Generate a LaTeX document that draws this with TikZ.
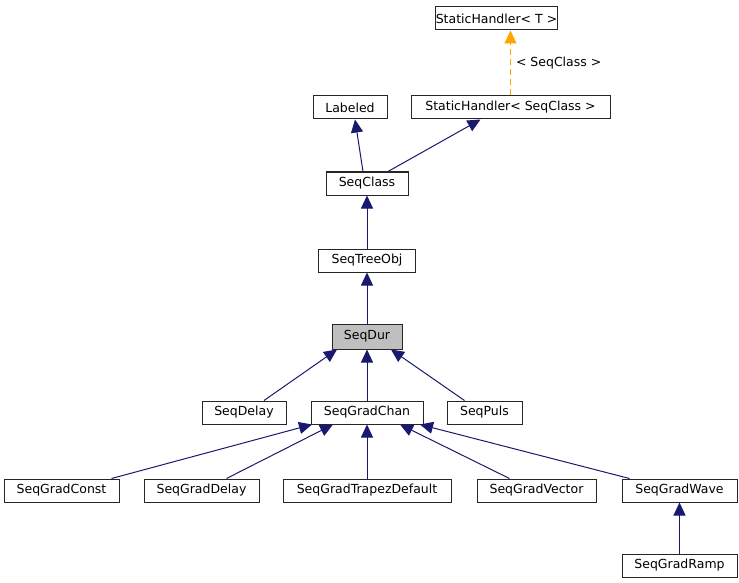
\documentclass[tikz,border=0pt]{standalone}
\usepackage{fontspec}
\setmainfont{DejaVu Sans}
\usetikzlibrary{arrows.meta, positioning}
\definecolor{navy}{HTML}{191970}
\definecolor{tmplorange}{HTML}{FFA500}
\tikzstyle{cls}=[draw=black!85, line width=1pt, minimum height=23pt, inner sep=0pt, font=\fontsize{12.5}{15}\selectfont]
\tikzstyle{inherit}=[navy, line width=1pt, -{Triangle[length=13pt,width=12pt]}]
\tikzstyle{tmpl}=[tmplorange, line width=1pt, dash pattern=on 6pt off 4pt, -{Triangle[length=13pt,width=12pt]}]

\begin{document}
\begin{tikzpicture}[x=1pt, y=-1pt]
  \useasboundingbox (0,0) rectangle (739,583);
  \node[cls, minimum width=199pt] (SHSeq) at (510.5,107.5) {StaticHandler< SeqClass >};
  \node[cls, minimum width=121pt] (SHT) [above=65pt of SHSeq, xshift=-14pt] {StaticHandler< T >};
  \node[cls, minimum width=74pt] (Labeled) at (350,107.5) {Labeled};
  \node[cls, minimum width=82pt] (SeqClass) at (367,183.5) {SeqClass};
  \node[cls, minimum width=97pt] (SeqTreeObj) [below=53pt of SeqClass] {SeqTreeObj};
  \node[cls, minimum width=70pt, minimum height=25pt, fill=black!25] (SeqDur) [below=51pt of SeqTreeObj] {SeqDur};
  \node[cls, minimum width=112pt] (SeqGradChan) [below=51pt of SeqDur] {SeqGradChan};
  \node[cls, minimum width=84pt] (SeqDelay) [left=24pt of SeqGradChan] {SeqDelay};
  \node[cls, minimum width=75pt] (SeqPuls) [right=23pt of SeqGradChan] {SeqPuls};
  \node[cls, minimum width=168pt] (SeqGradTrapezDefault) [below=54pt of SeqGradChan] {SeqGradTrapezDefault};
  \node[cls, minimum width=115pt] (SeqGradDelay) [left=23pt of SeqGradTrapezDefault] {SeqGradDelay};
  \node[cls, minimum width=115pt] (SeqGradConst) [left=24pt of SeqGradDelay] {SeqGradConst};
  \node[cls, minimum width=119pt] (SeqGradVector) [right=25pt of SeqGradTrapezDefault] {SeqGradVector};
  \node[cls, minimum width=115pt] (SeqGradWave) [right=25pt of SeqGradVector] {SeqGradWave};
  \node[cls, minimum width=115pt] (SeqGradRamp) [below=51pt of SeqGradWave] {SeqGradRamp};
  % template instance
  \draw[tmpl] (SHSeq.north) -- ([xshift=14pt]SHT.south)
    node[midway, right, black, font=\fontsize{12.5}{15}\selectfont, inner sep=5pt] {< SeqClass >};
  % base classes
  \draw[inherit] ([xshift=-4pt]SeqClass.north) -- ([xshift=5pt]Labeled.south);
  \draw[inherit] ([xshift=21pt]SeqClass.north) -- ([xshift=-30pt]SHSeq.south);
  \draw[inherit] (SeqTreeObj) -- (SeqClass);
  \draw[inherit] (SeqDur) -- (SeqTreeObj);
  \draw[inherit] ([xshift=20pt]SeqDelay.north) -- ([xshift=-30pt]SeqDur.south);
  \draw[inherit] (SeqGradChan) -- (SeqDur);
  \draw[inherit] ([xshift=-20pt]SeqPuls.north) -- ([xshift=24pt]SeqDur.south);
  \draw[inherit] ([xshift=50pt]SeqGradConst.north) -- ([xshift=-55pt]SeqGradChan.south);
  \draw[inherit] ([xshift=25pt]SeqGradDelay.north) -- ([xshift=-34pt]SeqGradChan.south);
  \draw[inherit] (SeqGradTrapezDefault) -- (SeqGradChan);
  \draw[inherit] ([xshift=-27pt]SeqGradVector.north) -- ([xshift=33pt]SeqGradChan.south);
  \draw[inherit] ([xshift=-50pt]SeqGradWave.north) -- ([xshift=53pt]SeqGradChan.south);
  \draw[inherit] (SeqGradRamp) -- (SeqGradWave);
\end{tikzpicture}
\end{document}
